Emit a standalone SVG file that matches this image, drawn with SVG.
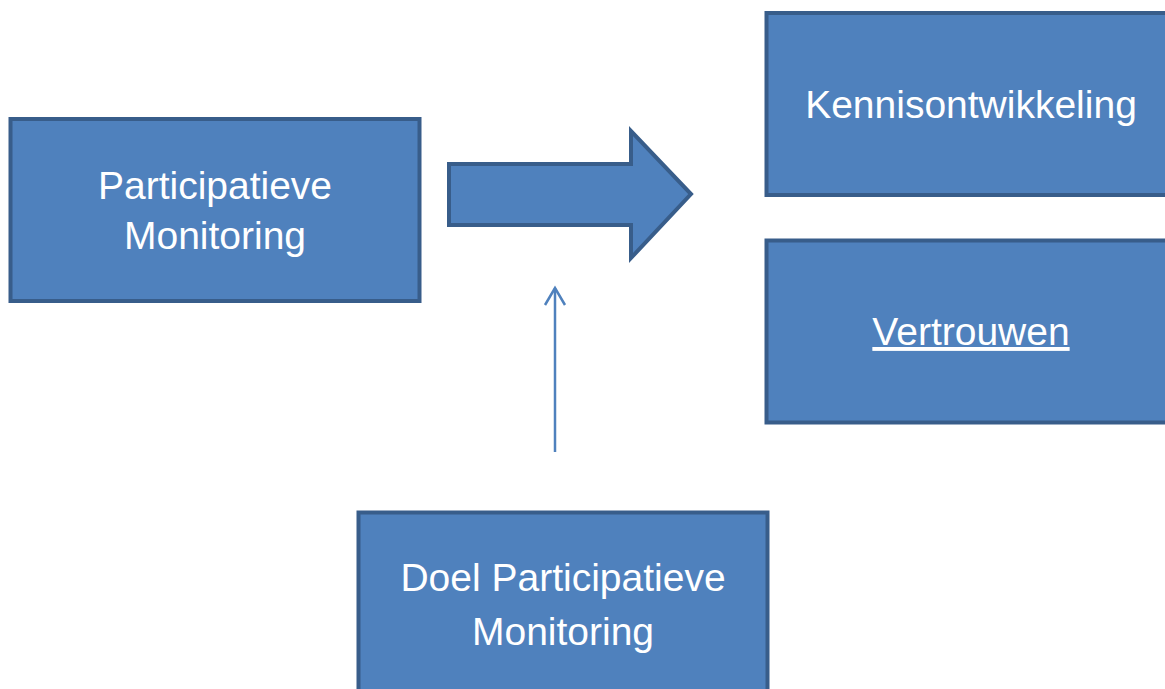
<svg xmlns="http://www.w3.org/2000/svg" width="1165" height="689" viewBox="0 0 1165 689">
<defs>
<style>
.box{fill:#4F81BD;stroke:#385D8A;stroke-width:4;}
.lbl{font-family:"Liberation Sans",Arial,sans-serif;font-size:39px;fill:#FFFFFF;text-anchor:middle;}
.thin{stroke:#4F81BD;stroke-width:2.5;fill:none;}
</style>
<marker id="open" viewBox="-2 -2 22 24" refX="17" refY="10" markerWidth="22" markerHeight="24" markerUnits="userSpaceOnUse" orient="auto">
<path d="M0,0 L17,10 L0,20" fill="none" stroke="#4F81BD" stroke-width="2.5"/>
</marker>
</defs>
<rect width="1165" height="689" fill="#FFFFFF"/>
<g id="node-participatieve">
<rect class="box" x="10.5" y="119" width="409" height="182"/>
<text class="lbl" x="215" y="199">Participatieve</text>
<text class="lbl" x="215" y="249">Monitoring</text>
</g>
<g id="node-kennis">
<rect class="box" x="766.5" y="13" width="409" height="182"/>
<text class="lbl" x="971" y="118">Kennisontwikkeling</text>
</g>
<g id="node-vertrouwen">
<rect class="box" x="766.5" y="240.5" width="409" height="182"/>
<text class="lbl" x="971" y="345" text-decoration="underline">Vertrouwen</text>
</g>
<g id="node-doel">
<rect class="box" x="358.5" y="512.5" width="409" height="200"/>
<text class="lbl" x="563" y="591">Doel Participatieve</text>
<text class="lbl" x="563" y="645">Monitoring</text>
</g>
<g id="connectors">
<path id="block-arrow" class="box" d="M449,164 L631,164 L631,131 L691,194 L631,258 L631,225 L449,225 Z" stroke-linejoin="miter"/>
<line id="thin-arrow" class="thin" x1="555" y1="452" x2="555" y2="288" marker-end="url(#open)"/>
</g>
</svg>
